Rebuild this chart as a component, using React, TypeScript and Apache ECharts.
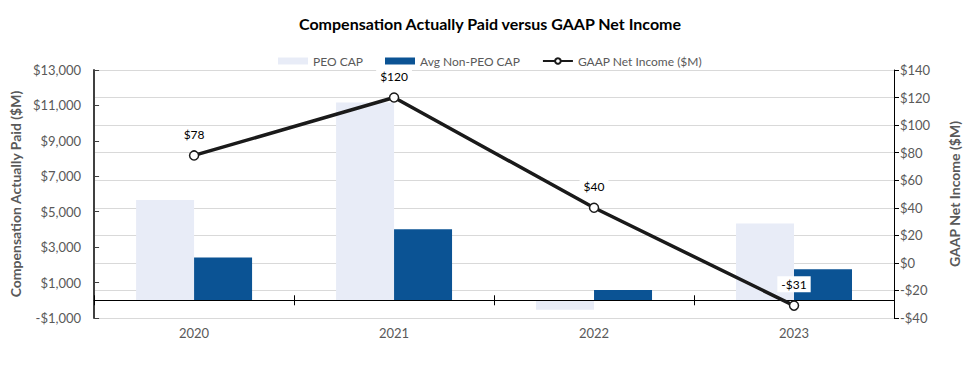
import React, { useEffect, useRef } from "react";
import * as echarts from "echarts";

const categories = ["2020", "2021", "2022", "2023"];
const peoCap = [5660, 11170, -540, 4330];
const avgNonPeoCap = [2420, 4010, 585, 1745];
const netIncome = [78, 120, 40, -31];

const FONT = "Lato, 'Open Sans', sans-serif";
const GRAY = "#595959";

const fmtMoney = (v: number) => {
  const s = "$" + Math.abs(v).toLocaleString("en-US");
  return v < 0 ? "-" + s : s;
};

export default function App() {
  const ref = useRef<HTMLDivElement>(null);
  useEffect(() => {
    if (!ref.current) return;
    const chart = echarts.init(ref.current, undefined, { renderer: "svg" });
    chart.setOption({
      animation: false,
      backgroundColor: "#fff",
      textStyle: { fontFamily: FONT },
      title: {
        text: "Compensation Actually Paid versus GAAP Net Income",
        left: "center",
        top: 10,
        textStyle: { fontFamily: FONT, fontSize: 16, fontWeight: "bold", color: "#000" },
      },
      legend: {
        top: 50,
        left: "center",
        itemWidth: 30,
        itemHeight: 7,
        itemGap: 22,
        textStyle: { fontFamily: FONT, fontSize: 12, color: GRAY },
        data: [
          { name: "PEO CAP", icon: "rect" },
          { name: "Avg Non-PEO CAP", icon: "rect" },
          { name: "GAAP Net Income ($M)" },
        ],
      },
      grid: { left: 89, right: 86, top: 70, bottom: 64 },
      xAxis: [
        {
          type: "category",
          data: categories,
          z: 5,
          axisLine: { onZero: true, onZeroAxisIndex: 0, lineStyle: { color: "#000", width: 1 } },
          axisTick: { show: true, alignWithLabel: false, length: 5, lineStyle: { color: "#000" } },
          axisLabel: { margin: 8, fontFamily: FONT, fontSize: 13, color: GRAY },
        },
        {
          type: "category",
          data: categories,
          position: "bottom",
          z: 5,
          axisLine: { show: false, onZero: true, onZeroAxisIndex: 0 },
          axisTick: { show: true, inside: true, alignWithLabel: false, length: 5, lineStyle: { color: "#000" } },
          axisLabel: { show: false },
        },
      ],
      yAxis: [
        {
          type: "value",
          min: -1000,
          max: 13000,
          interval: 2000,
          name: "Compensation Actually Paid ($M)",
          nameLocation: "middle",
          nameGap: 72,
          nameTextStyle: { fontFamily: FONT, fontSize: 14, fontWeight: "bold", color: GRAY },
          axisLine: { show: true, lineStyle: { color: "#404040", width: 2 } },
          axisTick: { show: true, inside: true, length: 5, lineStyle: { color: "#404040" } },
          axisLabel: { margin: 13, fontFamily: FONT, fontSize: 13, color: GRAY, formatter: (v: number) => fmtMoney(v) },
          splitLine: { show: false },
        },
        {
          type: "value",
          min: -40,
          max: 140,
          interval: 20,
          position: "right",
          name: "GAAP Net Income ($M)",
          nameLocation: "middle",
          nameGap: 53,
          nameRotate: 90,
          nameTextStyle: { fontFamily: FONT, fontSize: 14, fontWeight: "bold", color: GRAY },
          axisLine: { show: true, lineStyle: { color: "#000", width: 1 } },
          axisTick: { show: true, length: 5, lineStyle: { color: "#000" } },
          axisLabel: { margin: 6, fontFamily: FONT, fontSize: 13, color: GRAY, formatter: (v: number) => fmtMoney(v) },
          splitLine: { show: true, lineStyle: { color: "#D9D9D9", width: 1 } },
        },
      ],
      series: [
        {
          name: "PEO CAP",
          type: "bar",
          yAxisIndex: 0,
          data: peoCap,
          barGap: "0%",
          barCategoryGap: "42%",
          itemStyle: { color: "#E8ECF7" },
        },
        {
          name: "Avg Non-PEO CAP",
          type: "bar",
          yAxisIndex: 0,
          data: avgNonPeoCap,
          barGap: "0%",
          barCategoryGap: "42%",
          itemStyle: { color: "#0B5394" },
        },
        {
          name: "GAAP Net Income ($M)",
          type: "line",
          yAxisIndex: 1,
          data: netIncome,
          z: 6,
          symbol: "circle",
          symbolSize: 9,
          lineStyle: { color: "#1a1a1a", width: 3.5 },
          itemStyle: { color: "#fff", borderColor: "#1a1a1a", borderWidth: 1.5 },
          label: {
            show: true,
            position: "top",
            distance: 8,
            formatter: (p: any) => fmtMoney(p.value),
            fontFamily: FONT,
            fontSize: 12,
            color: "#000",
            backgroundColor: "#fff",
            padding: [2, 4],
          },
        },
      ],
    });
    return () => chart.dispose();
  }, []);
  return (
    <div
      ref={ref}
      style={{ position: "absolute", left: 0, top: 0, width: 980, height: 382 }}
    />
  );
}
